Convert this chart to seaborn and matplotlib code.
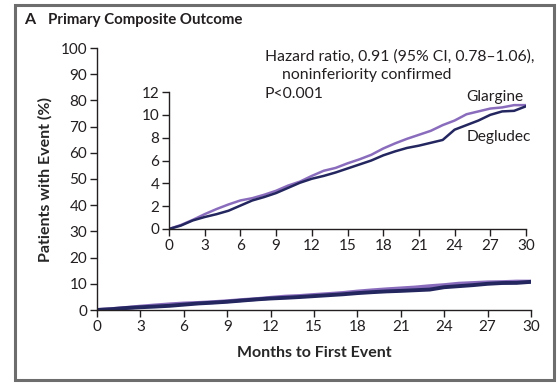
import pandas as pd
import matplotlib.pyplot as plt
import seaborn as sns
from matplotlib.patches import Rectangle

# cumulative incidence (%), by month
months = list(range(0, 31))
glargine = [0, 0.35, 0.8, 1.3, 1.75, 2.15, 2.5, 2.7, 3.0, 3.35, 3.8, 4.15, 4.65, 5.1, 5.35, 5.75,
            6.1, 6.5, 7.05, 7.5, 7.9, 8.25, 8.6, 9.1, 9.5, 10.05, 10.3, 10.55, 10.65, 10.85, 10.85]
degludec = [0, 0.3, 0.75, 1.05, 1.3, 1.6, 2.05, 2.5, 2.8, 3.15, 3.6, 4.05, 4.4, 4.65, 4.95, 5.3,
            5.65, 6.0, 6.45, 6.8, 7.1, 7.3, 7.55, 7.8, 8.7, 9.1, 9.5, 10.0, 10.3, 10.35, 10.75]
x_ticks = list(range(0, 31, 3))
main_y_ticks = list(range(0, 101, 10))
inset_y_ticks = list(range(0, 13, 2))

df = pd.DataFrame({
    "month": months * 2,
    "pct": glargine + degludec,
    "group": ["Glargine"] * len(months) + ["Degludec"] * len(months),
})

sns.set_style("ticks")
plt.rcParams["font.family"] = ["Lato", "DejaVu Sans"]
plt.rcParams["text.color"] = "#231f20"

colors = {"Glargine": "#8a6cbd", "Degludec": "#23265f"}

fig = plt.figure(figsize=(5.6, 3.84), dpi=100)

# outer frame
fig.patches.append(Rectangle((15 / 560, 4 / 384), 539 / 560, 375 / 384, transform=fig.transFigure,
                             fill=False, edgecolor="#6d6d6d", linewidth=2.2))
fig.text(24 / 560, 1 - 20 / 384, "A", fontsize=11.5, fontweight="bold", va="center")
fig.text(48 / 560, 1 - 20 / 384, "Primary Composite Outcome", fontsize=10.8, fontweight="bold", va="center")

ax = fig.add_axes([97 / 560, 1 - 310 / 384, 434 / 560, 262 / 384])
sns.lineplot(data=df, x="month", y="pct", hue="group", palette=colors, linewidth=2.8,
             hue_order=["Glargine", "Degludec"], legend=False, ax=ax)
ax.set_xlim(0, 30)
ax.set_ylim(0, 100)
ax.set_xticks(x_ticks)
ax.set_yticks(main_y_ticks)
ax.set_xlabel("Months to First Event", fontsize=11.5, fontweight="bold", labelpad=9)
ax.set_ylabel("Patients with Event (%)", fontsize=11.5, fontweight="bold", labelpad=6)
ax.tick_params(labelsize=11, length=5, width=1, pad=2, colors="#231f20")
sns.despine(ax=ax)
for s in ax.spines.values():
    s.set_linewidth(1)
    s.set_color("#231f20")

ins = fig.add_axes([169 / 560, 1 - 229 / 384, 357 / 560, 137 / 384])
sns.lineplot(data=df, x="month", y="pct", hue="group", palette=colors, linewidth=1.8,
             hue_order=["Glargine", "Degludec"], legend=False, ax=ins)
ins.set_xlim(0, 30)
ins.set_ylim(0, 12)
ins.set_xticks(x_ticks)
ins.set_yticks(inset_y_ticks)
ins.set_xlabel("")
ins.set_ylabel("")
ins.patch.set_alpha(0)
ins.tick_params(labelsize=11, length=5, width=1, pad=2, colors="#231f20")
sns.despine(ax=ins)
for s in ins.spines.values():
    s.set_linewidth(1)
    s.set_color("#231f20")

ins.text(25, 11.6, "Glargine", fontsize=11.2, va="center")
ins.text(25, 8.05, "Degludec", fontsize=11.2, va="center")

fig.text(265 / 560, 1 - 57 / 384, "Hazard ratio, 0.91 (95% CI, 0.78\u20131.06),", fontsize=11.3, va="center")
fig.text(282 / 560, 1 - 75 / 384, "noninferiority confirmed", fontsize=11.3, va="center")
fig.text(265 / 560, 1 - 94 / 384, "P<0.001", fontsize=11.3, va="center")

fig.savefig("out.png", dpi=100)
